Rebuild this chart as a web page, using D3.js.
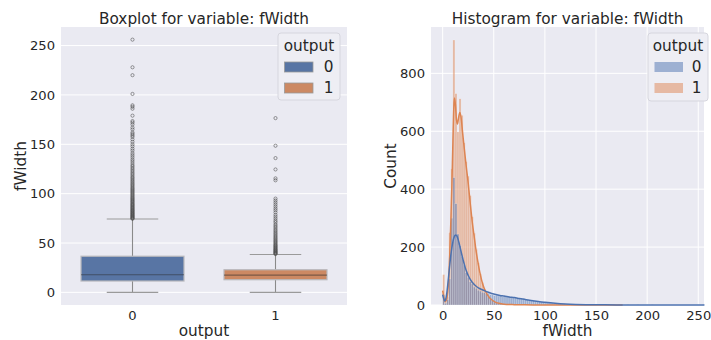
<!DOCTYPE html>
<html>
<head>
<meta charset="utf-8">
<script src="https://cdn.jsdelivr.net/npm/d3@7"></script>
<style>
  body { margin: 0; background: #fff; }
  svg text { font-family: "DejaVu Sans", sans-serif; fill: #262626; }
</style>
</head>
<body>
<svg id="chart" width="711" height="340"></svg>
<script>
// ---------- data ----------
const categories = ["0", "1"];

// boxplot stats per category
const q1 = [11.5, 12.8];
const medians = [17.8, 17.5];
const q3 = [36.6, 22.9];
const whiskerLow = [0, 0];
const whiskerHigh = [74.3, 38.3];

const outliers0 = [74.5, 75, 75.6, 76.2, 76.8, 77.5, 78, 78.7, 79.3, 80, 80.6, 81.3, 82, 82.7, 83.3, 84,
  84.8, 85.5, 86.2, 87, 87.8, 88.5, 89.3, 90, 91, 91.8, 92.6, 93.5, 94.3, 95.2, 96, 97, 98, 99, 100,
  101, 102, 103, 104, 105, 106, 107.2, 108.4, 109.5, 110.7, 112, 113.2, 114.5, 115.8, 117, 118.5,
  120, 121.4, 123, 124.5, 126, 127.6, 129, 131, 133, 134.8, 137, 139, 141, 143.5, 145.5, 148, 150,
  152.5, 155, 157.5, 159, 160.5, 162, 165, 167, 170, 172, 173.5, 179, 186, 188, 189.5, 201, 220, 228, 256];
const outliers1 = [38.8, 39.3, 39.8, 40.4, 41, 41.6, 42.2, 42.9, 43.5, 44.2, 45, 45.7, 46.5, 47.3, 48,
  49, 50, 51, 52, 53, 54.2, 55.3, 56.5, 57.7, 59, 60.3, 61.7, 63, 64.5, 66, 67.5, 69, 71, 72.5, 74.5,
  76.5, 78.5, 81, 83.2, 85, 87, 89, 91, 93, 95, 113.5, 115.5, 124.5, 136, 148.5, 176.5];

// histogram counts, bins of width 2 starting at 0
const binWidth = 2;
const counts0 = [35, 6, 18, 90, 300, 440, 350, 245, 205, 168, 138, 112, 96, 80, 73, 62, 58, 51, 48, 44,
  43, 39, 40, 36, 35, 33, 34, 31, 32, 29, 31, 28, 29, 27, 26, 25, 24, 23, 21, 22,
  19, 18, 17, 15, 15, 13, 13, 11, 11, 10, 9, 8, 8, 7, 6, 6, 5, 5, 4, 4,
  3, 3, 3, 2, 2, 2, 2, 1, 2, 1, 1, 1, 1, 1, 1, 1, 1, 0, 1, 0,
  1, 0, 0, 1, 0, 0, 1, 0, 0, 0, 1, 0, 0, 0, 0, 1, 0, 0, 0, 0,
  0, 0, 1, 0, 0, 0, 0, 0, 0, 0, 0, 0, 0, 0, 0, 0, 0, 0, 0, 0,
  0, 0, 0, 0, 0, 0, 0, 1];
const counts1 = [105, 12, 28, 250, 470, 915, 730, 598, 712, 655, 560, 495, 445, 378, 305, 248, 192, 146, 108, 78,
  56, 41, 29, 21, 15, 10, 8, 6, 4, 3, 3, 2, 2, 1, 1, 1, 1, 0, 1, 0,
  1, 0, 0, 1, 0, 0, 0, 0, 0, 0, 0, 0, 0, 0, 0, 0, 1, 0, 0, 0,
  0, 0, 0, 0, 0, 0, 0, 0, 0, 0, 0, 0, 0, 0, 0, 0, 0, 0, 0, 0,
  0, 0, 0, 0, 0, 0, 0, 1];

// kde curves [fWidth, count]
const kde0 = [[0, 36], [1, 22], [2, 14], [3, 20], [4, 40], [5, 70], [6, 105], [7, 140], [8, 172], [9, 198],
  [10, 218], [11, 232], [12, 240], [13, 242], [14, 238], [15, 228], [16, 215], [17, 200], [18, 185],
  [19, 170], [20, 156], [22, 130], [24, 110], [26, 95], [28, 83], [30, 74], [33, 64], [36, 57], [40, 51],
  [44, 45], [48, 40], [52, 36], [56, 33], [60, 31], [65, 28], [70, 25.5], [75, 22.5], [80, 19.5],
  [85, 16.5], [90, 14], [95, 11.5], [100, 9.5], [110, 6], [120, 3.5], [130, 2], [140, 1.2], [150, 0.8],
  [170, 0.4], [200, 0.2], [230, 0.1], [256, 0]];
const kde1 = [[0, 50], [1, 30], [2, 14], [3, 12], [4, 20], [5, 45], [6, 95], [7, 180], [8, 290], [9, 410],
  [10, 560], [11, 690], [11.6, 715], [12.5, 690], [13.5, 640], [14.5, 625], [15.5, 645], [16.8, 665],
  [18, 648], [19.5, 595], [21, 545], [23, 480], [25, 420], [27, 350], [29, 285], [31, 232], [33, 180],
  [35, 138], [37, 102], [39, 74], [41, 54], [43, 40], [45, 29], [48, 18], [51, 11], [55, 6], [60, 3],
  [70, 1.2], [80, 0.5], [100, 0.2], [130, 0.1], [176, 0]];

// tick values
const boxTicks = [0, 50, 100, 150, 200, 250];
const histXTicks = [0, 50, 100, 150, 200, 250];
const histYTicks = [0, 200, 400, 600, 800];

// ---------- styles ----------
const bg = "#eaeaf2";
const boxFill = ["#5875a4", "#cc8963"];
const histColor = ["#4c72b0", "#dd8452"];
const tickFont = "13.1px";
const labelFont = "15.3px";

const svg = d3.select("#chart");

//axis with no tick marks or domain line
function styleAxis(g) {
  g.select(".domain").remove();
  g.selectAll("text").style("font-size", tickFont).attr("fill", "#262626");
  g.attr("font-family", null).attr("font-size", null);
}

function legend(x, y, w, h, fills, opacity, stroke) {
  let g = svg.append("g");
  g.append("rect")
    .attr("x", x).attr("y", y).attr("width", w).attr("height", h)
    .attr("rx", 3)
    .attr("fill", "#eeeef4").attr("stroke", "#d6d6de").attr("stroke-width", 1);
  g.append("text")
    .attr("x", x + w / 2).attr("y", y + 17.5)
    .attr("text-anchor", "middle")
    .style("font-size", labelFont)
    .text("output");
  g.selectAll("rect.patch").data(categories).enter()
    .append("rect")
    .attr("class", "patch")
    .attr("x", x + 6.5).attr("y", (d, i) => y + 29 + 21 * i)
    .attr("width", 28.5).attr("height", 10)
    .attr("fill", (d, i) => fills[i]).attr("fill-opacity", opacity)
    .attr("stroke", stroke).attr("stroke-width", stroke == "none" ? 0 : 0.8);
  g.selectAll("text.lab").data(categories).enter()
    .append("text")
    .attr("class", "lab")
    .attr("x", x + w - 11.5).attr("y", (d, i) => y + 34 + 21 * i)
    .attr("dy", "0.35em")
    .attr("text-anchor", "middle")
    .style("font-size", labelFont)
    .text(d => d);
}

// ---------- boxplot panel ----------
const L = { left: 61, right: 347, top: 27, bottom: 305 };
const xBox = d3.scaleBand().domain(categories).range([L.left, L.right]);
const yBox = d3.scaleLinear().domain([-12.8, 268.8]).range([L.bottom, L.top]);

svg.append("rect")
  .attr("x", L.left).attr("y", L.top)
  .attr("width", L.right - L.left).attr("height", L.bottom - L.top)
  .attr("fill", bg);

svg.append("g").selectAll("line").data(boxTicks).enter()
  .append("line")
  .attr("x1", L.left).attr("x2", L.right)
  .attr("y1", d => yBox(d)).attr("y2", d => yBox(d))
  .attr("stroke", "#fff").attr("stroke-width", 1);

svg.append("g")
  .attr("transform", `translate(${L.left},0)`)
  .call(d3.axisLeft(yBox).tickValues(boxTicks).tickSize(0).tickPadding(6))
  .call(styleAxis);

svg.append("g")
  .attr("transform", `translate(0,${L.bottom})`)
  .call(d3.axisBottom(xBox).tickSize(0).tickPadding(6))
  .call(styleAxis);

const boxW = xBox.bandwidth() * 0.72;
const cx = d => xBox(d) + xBox.bandwidth() / 2;

const boxes = svg.append("g").selectAll("g").data(categories).enter().append("g");

//whiskers
boxes.append("line")
  .attr("x1", cx).attr("x2", cx)
  .attr("y1", (d, i) => yBox(q3[i])).attr("y2", (d, i) => yBox(whiskerHigh[i]))
  .attr("stroke", "#8a8a8a").attr("stroke-width", 1.1);
boxes.append("line")
  .attr("x1", cx).attr("x2", cx)
  .attr("y1", (d, i) => yBox(q1[i])).attr("y2", (d, i) => yBox(whiskerLow[i]))
  .attr("stroke", "#8a8a8a").attr("stroke-width", 1.1);
//caps
for (let arr of [whiskerHigh, whiskerLow]) {
  boxes.append("line")
    .attr("x1", d => cx(d) - boxW / 4).attr("x2", d => cx(d) + boxW / 4)
    .attr("y1", (d, i) => yBox(arr[i])).attr("y2", (d, i) => yBox(arr[i]))
    .attr("stroke", "#9a9a9a").attr("stroke-width", 1.1);
}
//box
boxes.append("rect")
  .attr("x", d => cx(d) - boxW / 2)
  .attr("width", boxW)
  .attr("y", (d, i) => yBox(q3[i]))
  .attr("height", (d, i) => yBox(q1[i]) - yBox(q3[i]))
  .attr("fill", (d, i) => boxFill[i])
  .attr("stroke", "#b8b8bc").attr("stroke-width", 1.2);
//median
boxes.append("line")
  .attr("x1", d => cx(d) - boxW / 2).attr("x2", d => cx(d) + boxW / 2)
  .attr("y1", (d, i) => yBox(medians[i])).attr("y2", (d, i) => yBox(medians[i]))
  .attr("stroke", "#2a2a2a").attr("stroke-opacity", 0.5).attr("stroke-width", 1.1);
//outliers
[outliers0, outliers1].forEach((list, i) => {
  svg.append("g").selectAll("circle").data(list).enter()
    .append("circle")
    .attr("cx", cx(categories[i]))
    .attr("cy", d => yBox(d))
    .attr("r", 1.6)
    .attr("fill", "none")
    .attr("stroke", "#4a4a4a").attr("stroke-opacity", 0.8).attr("stroke-width", 0.7);
});

svg.append("text")
  .attr("x", (L.left + L.right) / 2).attr("y", 24)
  .attr("text-anchor", "middle").style("font-size", labelFont)
  .text("Boxplot for variable: fWidth");
svg.append("text")
  .attr("x", (L.left + L.right) / 2).attr("y", 336)
  .attr("text-anchor", "middle").style("font-size", labelFont)
  .text("output");
svg.append("text")
  .attr("transform", `translate(26,${(L.top + L.bottom) / 2}) rotate(-90)`)
  .attr("text-anchor", "middle").style("font-size", labelFont)
  .text("fWidth");

legend(278, 33, 62, 67, boxFill, 1, "#9a9a9a");

// ---------- histogram panel ----------
const R = { left: 431, right: 704, top: 27, bottom: 305 };
const xHist = d3.scaleLinear().domain([-11.4, 255.6]).range([R.left, R.right]);
const yHist = d3.scaleLinear().domain([0, 960]).range([R.bottom, R.top]);

svg.append("rect")
  .attr("x", R.left).attr("y", R.top)
  .attr("width", R.right - R.left).attr("height", R.bottom - R.top)
  .attr("fill", bg);

svg.append("g").selectAll("line").data(histYTicks).enter()
  .append("line")
  .attr("x1", R.left).attr("x2", R.right)
  .attr("y1", d => yHist(d)).attr("y2", d => yHist(d))
  .attr("stroke", "#fff").attr("stroke-width", 1);
svg.append("g").selectAll("line").data(histXTicks).enter()
  .append("line")
  .attr("x1", d => xHist(d)).attr("x2", d => xHist(d))
  .attr("y1", R.top).attr("y2", R.bottom)
  .attr("stroke", "#fff").attr("stroke-width", 1);

svg.append("g")
  .attr("transform", `translate(${R.left},0)`)
  .call(d3.axisLeft(yHist).tickValues(histYTicks).tickSize(0).tickPadding(6))
  .call(styleAxis);
svg.append("g")
  .attr("transform", `translate(0,${R.bottom})`)
  .call(d3.axisBottom(xHist).tickValues(histXTicks).tickSize(0).tickPadding(6))
  .call(styleAxis);

//bars: hue 1 first, hue 0 on top
[[counts1, 1], [counts0, 0]].forEach(([counts, k]) => {
  svg.append("g").selectAll("rect")
    .data(counts.map((c, i) => ({ x0: i * binWidth, c: c })).filter(d => d.c > 0))
    .enter()
    .append("rect")
    .attr("x", d => xHist(d.x0))
    .attr("width", d => xHist(d.x0 + binWidth) - xHist(d.x0))
    .attr("y", d => yHist(d.c))
    .attr("height", d => yHist(0) - yHist(d.c))
    .attr("fill", histColor[k]).attr("fill-opacity", 0.5)
    .attr("stroke", "#fff").attr("stroke-opacity", 0.45).attr("stroke-width", 0.4);
});

const kdeLine = d3.line()
  .x(d => xHist(d[0]))
  .y(d => yHist(d[1]))
  .curve(d3.curveMonotoneX);
[[kde1, 1], [kde0, 0]].forEach(([pts, k]) => {
  svg.append("path")
    .attr("d", kdeLine(pts))
    .attr("fill", "none")
    .attr("stroke", histColor[k]).attr("stroke-width", 1.5);
});

svg.append("text")
  .attr("x", (R.left + R.right) / 2).attr("y", 24)
  .attr("text-anchor", "middle").style("font-size", labelFont)
  .text("Histogram for variable: fWidth");
svg.append("text")
  .attr("x", (R.left + R.right) / 2).attr("y", 336)
  .attr("text-anchor", "middle").style("font-size", labelFont)
  .text("fWidth");
svg.append("text")
  .attr("transform", `translate(396,${(R.top + R.bottom) / 2}) rotate(-90)`)
  .attr("text-anchor", "middle").style("font-size", labelFont)
  .text("Count");

legend(648, 33, 60, 68, histColor, 0.5, "none");
</script>
</body>
</html>
